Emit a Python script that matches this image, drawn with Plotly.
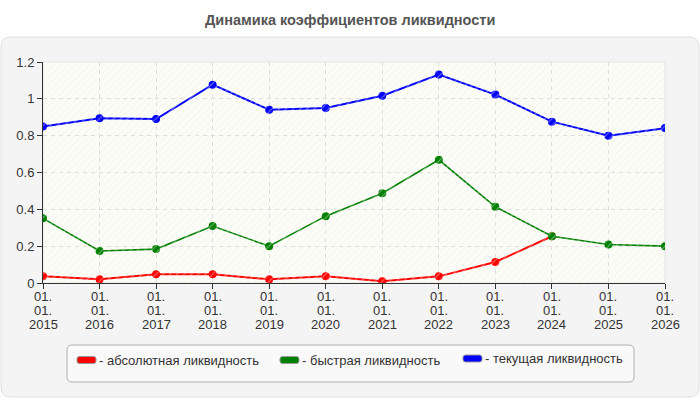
import plotly.graph_objects as go

years = [2015, 2016, 2017, 2018, 2019, 2020, 2021, 2022, 2023, 2024, 2025, 2026]
categories = ["01.<br>01.<br>%d" % y for y in years]
tick_lines = [["01.", "01.", str(y)] for y in years]
names = ["абсолютная ликвидность", "быстрая ликвидность", "текущая ликвидность"]
colors = ["#ff0000", "#008000", "#0000ff"]
absolute = [0.036, 0.020, 0.047, 0.047, 0.020, 0.036, 0.009, 0.036, 0.114, 0.254, None, None]
quick = [0.351, 0.174, 0.184, 0.309, 0.200, 0.363, 0.487, 0.669, 0.414, 0.254, 0.209, 0.200]
current = [0.850, 0.894, 0.890, 1.077, 0.941, 0.950, 1.017, 1.132, 1.023, 0.876, 0.800, 0.841]
series = [absolute, quick, current]

W, H = 700, 400
L, R, T, B = 43, 665, 62, 283
FONT = "Liberation Sans, Arial"


def px(x):
    return (x - L) / (R - L)


def py(y):
    return (B - y) / (B - T)


def rrect(x0, y0, x1, y1, r):
    a, b, c, d = px(x0), px(x1), py(y0), py(y1)
    rx = r / (R - L)
    ry = r / (B - T)
    return (f"M {a+rx},{c} L {b-rx},{c} Q {b},{c} {b},{c-ry} L {b},{d+ry} Q {b},{d} {b-rx},{d} "
            f"L {a+rx},{d} Q {a},{d} {a},{d+ry} L {a},{c-ry} Q {a},{c} {a+rx},{c} Z")


fig = go.Figure()

# faint hatched background across the plot area
fig.add_trace(go.Bar(x=[0.5], y=[1.2], width=[1], xaxis="x2", yaxis="y",
                     marker=dict(color="rgba(0,0,0,0)", line=dict(width=0),
                                 pattern=dict(shape="/", fgcolor="#ededE6", size=5, solidity=0.2)),
                     showlegend=False, hoverinfo="skip"))

widths = [2, 1.6, 2]
for vals, name, col, w in zip(series, names, colors, widths):
    fig.add_trace(go.Scatter(x=categories, y=vals, mode="lines+markers", name=name,
                             line=dict(color=col, width=w),
                             marker=dict(color=col, size=8), showlegend=False))

shapes = []
shapes.append(dict(type="path", xref="paper", yref="paper", path=rrect(1, 37, 699, 397, 10),
                   fillcolor="#f4f4f4", line=dict(color="#e0e0e0", width=1), layer="below"))
shapes.append(dict(type="rect", xref="paper", yref="paper", x0=0, x1=1, y0=0, y1=1,
                   fillcolor="#fdfdf7", line=dict(color="#e4e4e4", width=1), layer="below"))
shapes.append(dict(type="path", xref="paper", yref="paper", path=rrect(67, 345, 634, 382, 5),
                   fillcolor="#f9f9f9", line=dict(color="#b0b0b0", width=1), layer="below"))

annotations = []
leg_x = [77, 280, 463]
leg_y = [360, 360, 358.5]
for lx, ly, name, col in zip(leg_x, leg_y, names, colors):
    shapes.append(dict(type="path", xref="paper", yref="paper", path=rrect(lx, ly - 3.5, lx + 19, ly + 3.5, 2.5),
                       fillcolor=col, line=dict(color="#999999", width=1), layer="above"))
    annotations.append(dict(text="- " + name, xref="paper", yref="paper", x=px(lx + 20), y=py(ly),
                            xanchor="left", yanchor="middle", showarrow=False,
                            font=dict(size=13, color="#333333", family=FONT)))

# x tick labels, three lines each
line_y = [296, 310, 324]
for i, lines in enumerate(tick_lines):
    for ly, txt in zip(line_y, lines):
        annotations.append(dict(text=txt, xref="x", yref="paper", x=i, y=py(ly),
                                xanchor="center", yanchor="middle", showarrow=False,
                                font=dict(size=13, color="#333333", family=FONT)))

annotations.append(dict(text="<b>Динамика коэффициентов ликвидности</b>", xref="paper", yref="paper",
                        x=px(350), y=py(20), xanchor="center", yanchor="middle", showarrow=False,
                        font=dict(size=14.5, color="#555555", family=FONT)))

fig.update_layout(
    width=W, height=H,
    margin=dict(l=L, r=W - R, t=T, b=H - B),
    paper_bgcolor="#ffffff",
    plot_bgcolor="#fdfdf7",
    font=dict(family=FONT, size=13, color="#333333"),
    shapes=shapes,
    annotations=annotations,
    showlegend=False,
    xaxis=dict(type="category", range=[0, 11], showgrid=True, gridcolor="#dddddd", griddash="4px,4px",
               gridwidth=1, showline=True, linecolor="#333333", linewidth=1, ticks="outside",
               ticklen=5, tickcolor="#333333", zeroline=False, showticklabels=False),
    xaxis2=dict(range=[0, 1], overlaying="x", visible=False, showgrid=False),
    yaxis=dict(range=[0, 1.2], dtick=0.2, showgrid=True, gridcolor="#dddddd", griddash="4px,4px",
               gridwidth=1, showline=True, linecolor="#333333", linewidth=1, ticks="outside",
               ticklen=5, tickcolor="#333333", zeroline=False, tickfont=dict(size=13, color="#333333")),
    bargap=0,
)

fig.write_html("out.html")
